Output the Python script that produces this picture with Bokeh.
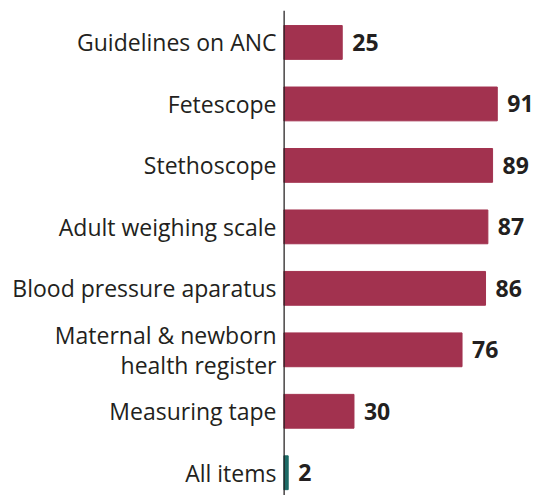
from bokeh.plotting import figure
from bokeh.models import ColumnDataSource, Range1d, Span, FixedTicker
from bokeh.core.properties import value
from bokeh.embed import file_html
from bokeh.resources import INLINE

categories = ["Guidelines on ANC", "Fetescope", "Stethoscope", "Adult weighing scale",
              "Blood pressure aparatus", "Maternal & newborn\nhealth register",
              "Measuring tape", "All items"]
values = [25, 91, 89, 87, 86, 76, 30, 2]
colors = ["#A2324F"] * 7 + ["#1C6A66"]

n = len(categories)
ys = list(range(n))
src = ColumnDataSource(dict(
    y=ys, v=values, color=colors,
    lbl=[str(v) for v in values],
))

p = figure(width=536, height=495, output_backend="svg", toolbar_location=None,
           x_range=Range1d(0, 107.7), y_range=Range1d(n - 1 + 0.37, -0.52),
           min_border_left=283, min_border_right=0, min_border_top=10, min_border_bottom=0)
p.xaxis.visible = False
p.grid.visible = False
p.outline_line_color = None

ax = p.yaxis[0]
ax.ticker = FixedTicker(ticks=ys)
ax.major_label_overrides = {y: c for y, c in zip(ys, categories)}
ax.major_tick_line_color = None
ax.minor_tick_line_color = None
ax.axis_line_color = None
ax.major_label_standoff = 1
ax.major_label_text_font = "Open Sans"
ax.major_label_text_font_size = "23px"
ax.major_label_text_color = "#231F20"
ax.major_label_text_line_height = 0.95

p.hbar(y="y", left=0, right="v", height=0.55, color="color", source=src)

p.text(x="v", y="y", text="lbl", source=src, x_offset=10, text_align="left",
       text_baseline="middle", text_font=value("Open Sans"), text_font_size="23px",
       text_font_style="bold", text_color="#231F20")

p.add_layout(Span(location=0, dimension="height", line_color="#231F20", line_width=2.5))

open("out.html", "w").write(file_html(p, INLINE))
